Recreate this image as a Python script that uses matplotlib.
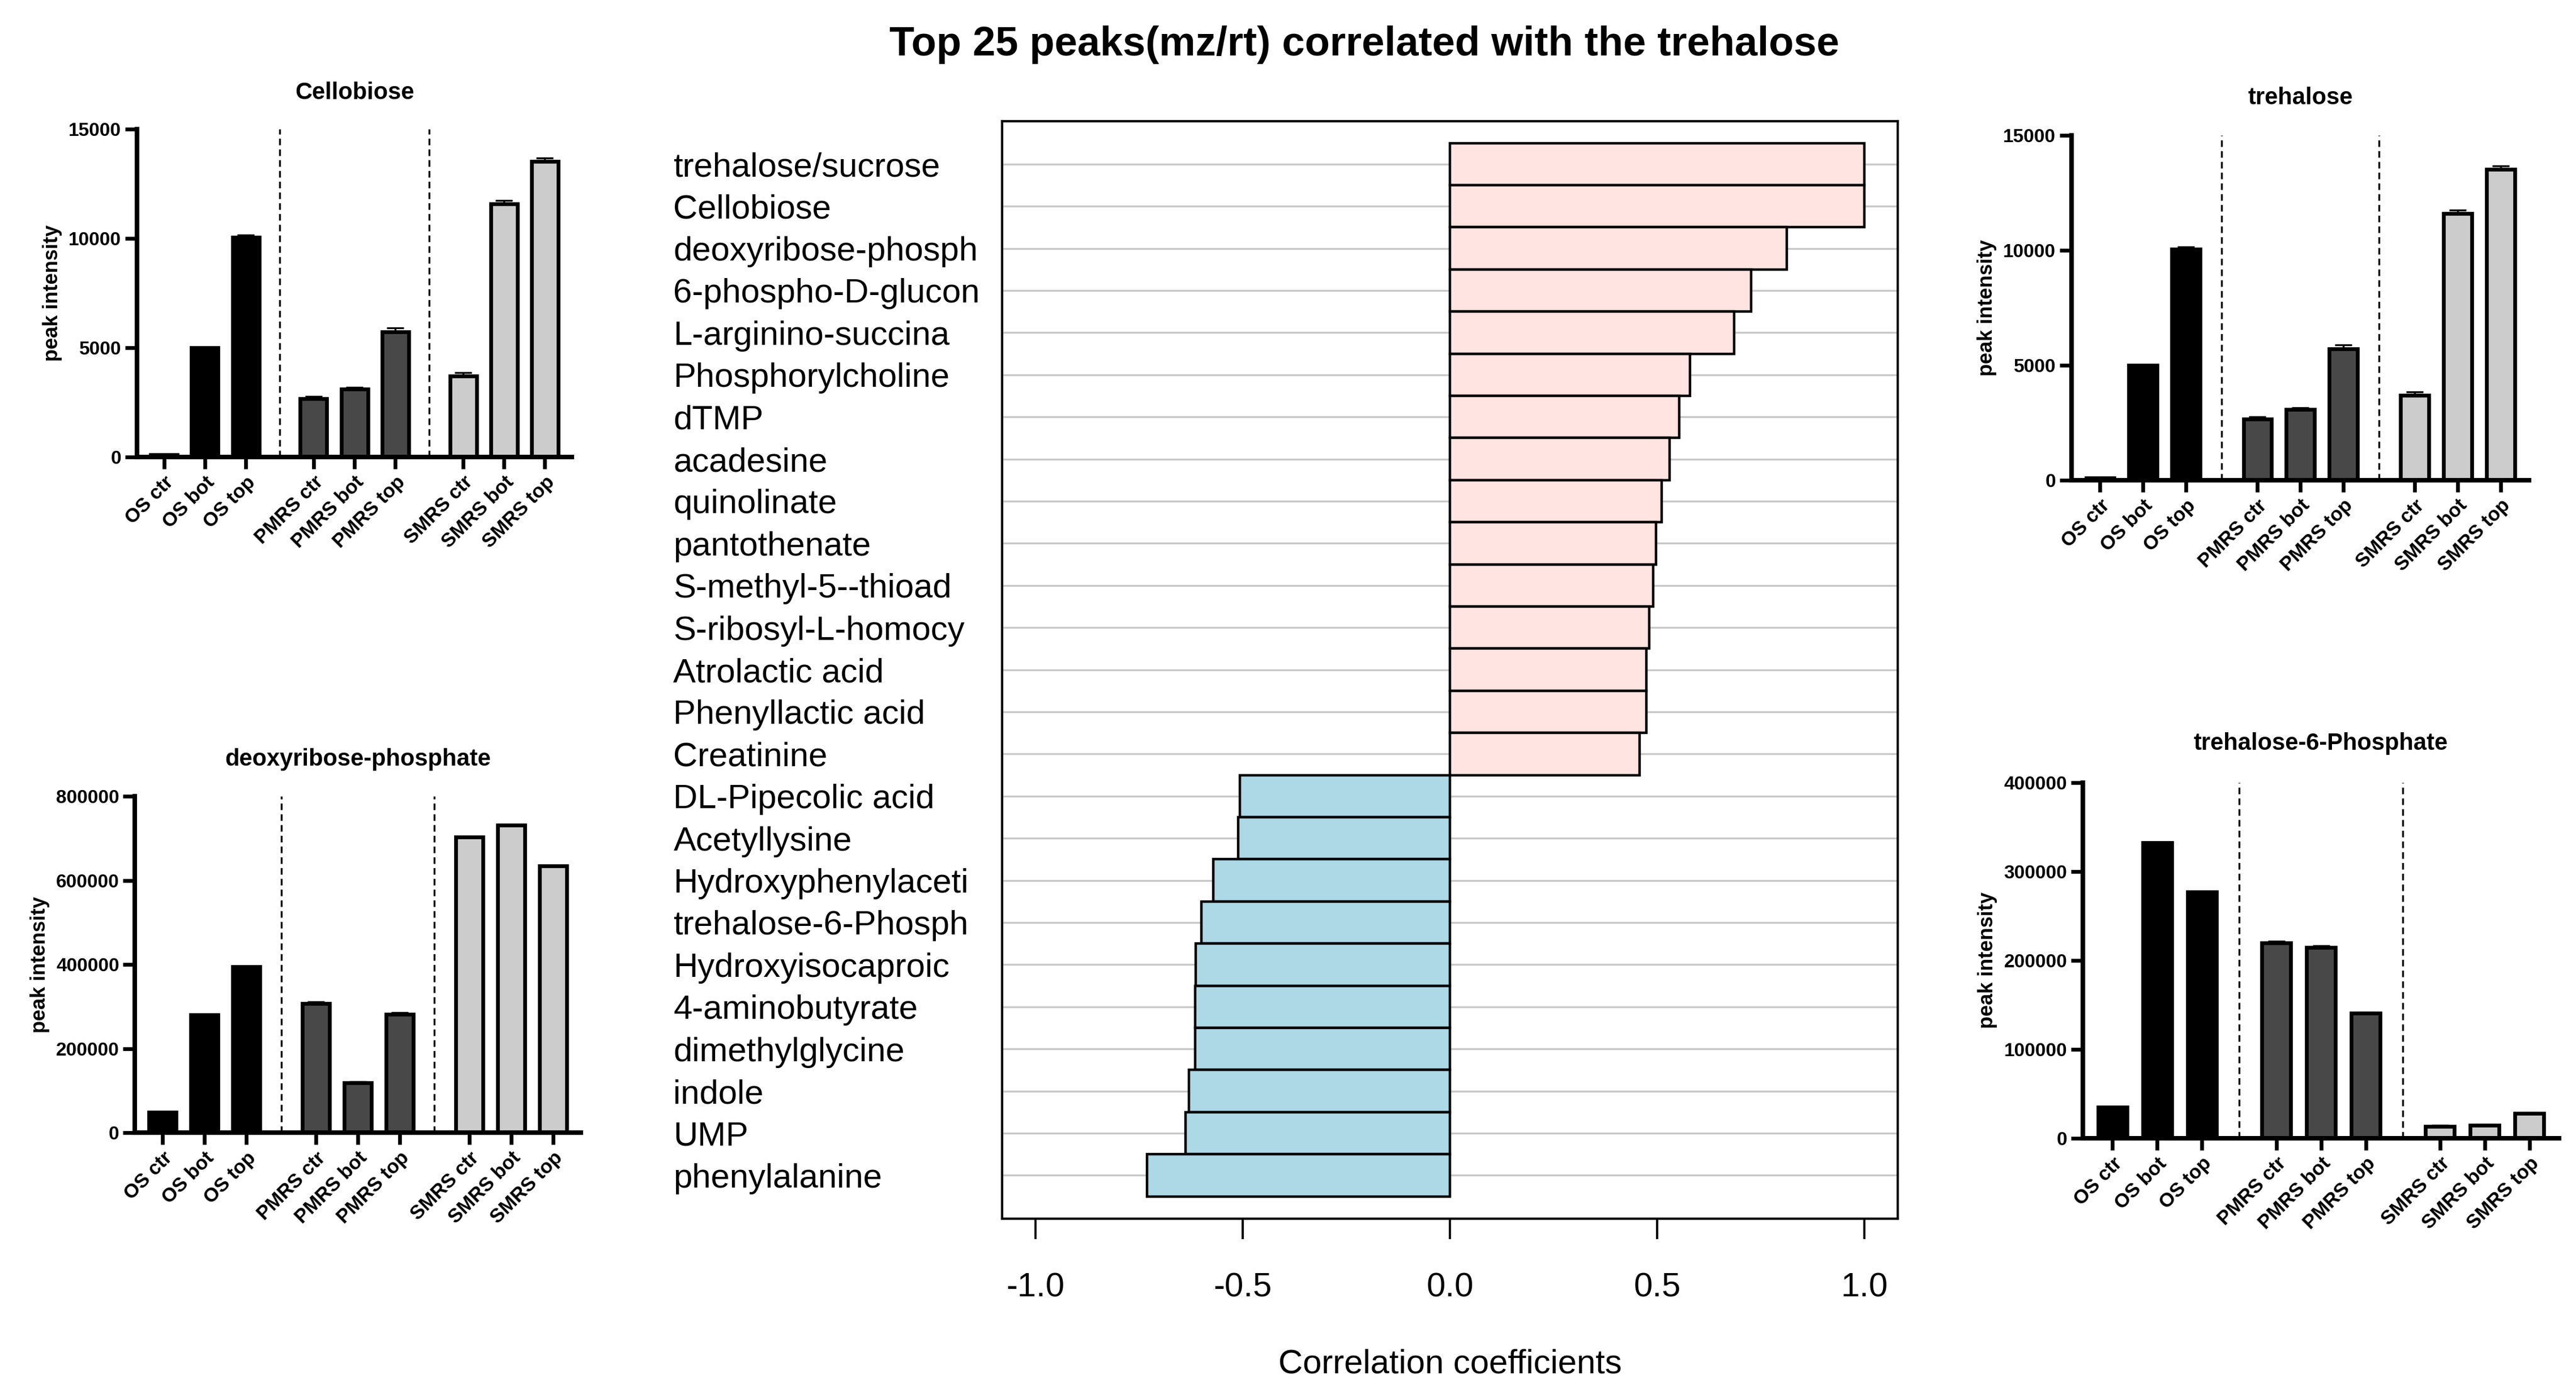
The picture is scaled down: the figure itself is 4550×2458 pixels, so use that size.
import matplotlib
matplotlib.use("Agg")
import matplotlib.pyplot as plt
import numpy as np

plt.rcParams['font.family'] = ['Liberation Sans', 'DejaVu Sans']

#------------------ main chart data ------------------#
peak_names = ['trehalose/sucrose', 'Cellobiose', 'deoxyribose-phosph', '6-phospho-D-glucon',
              'L-arginino-succina', 'Phosphorylcholine', 'dTMP', 'acadesine', 'quinolinate',
              'pantothenate', 'S-methyl-5--thioad', 'S-ribosyl-L-homocy', 'Atrolactic acid',
              'Phenyllactic acid', 'Creatinine', 'DL-Pipecolic acid', 'Acetyllysine',
              'Hydroxyphenylaceti', 'trehalose-6-Phosph', 'Hydroxyisocaproic', '4-aminobutyrate',
              'dimethylglycine', 'indole', 'UMP', 'phenylalanine']
corr_values = [1.0, 1.0, 0.813, 0.727, 0.685, 0.579, 0.553, 0.530, 0.511, 0.497, 0.490,
               0.480, 0.474, 0.474, 0.458, -0.507, -0.510, -0.570, -0.599, -0.613, -0.615,
               -0.615, -0.629, -0.638, -0.730]
corr_ticks = [-1.0, -0.5, 0.0, 0.5, 1.0]

#------------------ small panels data ------------------#
sample_groups = ['OS ctr', 'OS bot', 'OS top', 'PMRS ctr', 'PMRS bot', 'PMRS top',
                 'SMRS ctr', 'SMRS bot', 'SMRS top']
cellobiose_vals = [90, 5010, 10060, 2670, 3110, 5720, 3710, 11590, 13520]
cellobiose_err = [0, 0, 100, 100, 85, 180, 155, 140, 155]
trehalose_vals = [90, 4990, 10060, 2660, 3080, 5720, 3690, 11610, 13520]
trehalose_err = [0, 0, 100, 100, 85, 180, 155, 140, 155]
deoxy_vals = [48700, 279800, 394200, 306900, 118300, 282100, 703400, 731300, 634600]
deoxy_err = [0, 0, 0, 4000, 3000, 3000, 0, 0, 0]
t6p_vals = [34700, 332500, 277000, 219900, 214900, 140400, 13500, 14300, 27800]
t6p_err = [0, 0, 0, 1500, 1500, 1200, 1000, 1000, 1000]

bar_pos = np.array([0, 1, 2, 3.66, 4.66, 5.66, 7.32, 8.32, 9.32])
dash_x = [2.83, 6.49]
group_colors = ['#000000'] * 3 + ['#484848'] * 3 + ['#cccccc'] * 3


def small_panel(fig, rect, title, vals, errs, ymax, step, title_pad):
    ax = fig.add_axes(rect)
    ax.bar(bar_pos, vals, width=0.65, color=group_colors, edgecolor='black',
           linewidth=4.8, zorder=2)
    errs = np.array(errs, dtype=float)
    m = errs > 0
    ax.errorbar(bar_pos[m], np.array(vals)[m], yerr=[np.zeros(m.sum()), errs[m]],
                fmt='none', ecolor='black', elinewidth=2.4, capsize=11, capthick=2.4,
                zorder=3)
    for xd in dash_x:
        ax.axvline(xd, color='black', lw=2.4, linestyle=(0, (3.5, 2.2)), zorder=1)
    ax.set_xlim(-0.66, 9.98)
    ax.set_ylim(0, ymax)
    yt = np.arange(0, ymax + 1, step)
    ax.set_yticks(yt, labels=[str(int(v)) for v in yt], fontsize=24, fontweight='bold')
    ax.set_xticks(bar_pos, labels=sample_groups, fontsize=25, fontweight='bold',
                  rotation=45, ha='right', rotation_mode='anchor')
    for s in ['top', 'right']:
        ax.spines[s].set_visible(False)
    for s in ['left', 'bottom']:
        ax.spines[s].set_linewidth(5.8)
    ax.tick_params(axis='both', direction='out', length=15, width=4.8, pad=5)
    ax.set_ylabel('peak intensity', fontsize=26, fontweight='bold', labelpad=8)
    ax.set_title(title, fontsize=30, fontweight='bold', pad=title_pad)
    return ax


fig = plt.figure(figsize=(45.5, 24.58), dpi=100)

#------------------ main correlation chart ------------------#
ax = fig.add_axes([0.389, 0.1245, 0.3477, 0.7885])
ypos = np.arange(len(peak_names))
bar_cols = ['#ffe4e1' if v > 0 else '#add8e6' for v in corr_values]
ax.barh(ypos, corr_values, height=1.0, color=bar_cols, edgecolor='black',
        linewidth=3.2, zorder=2)
ax.set_xlim(-1.08, 1.08)
ax.set_ylim(25.03, -1.02)
ax.set_yticks(ypos, labels=peak_names, fontsize=43, ha='left')
ax.tick_params(axis='y', length=0, pad=418)
ax.set_xticks(corr_ticks, labels=['%.1f' % t for t in corr_ticks], fontsize=43)
ax.tick_params(axis='x', direction='out', length=26, width=2.8, pad=42)
ax.grid(axis='y', color='#c8c8c8', linewidth=2.4, zorder=0)
ax.set_axisbelow(True)
for s in ax.spines.values():
    s.set_linewidth(3.0)

fig.text(0.5629, 0.0199, 'Correlation coefficients', fontsize=43, ha='center', va='center')
fig.text(0.5297, 0.9601, 'Top 25 peaks(mz/rt) correlated with the trehalose',
         fontsize=52, fontweight='bold', ha='center', va='baseline')

#------------------ side panels ------------------#
small_panel(fig, [0.0532, 0.6717, 0.1688, 0.2355], 'Cellobiose',
            cellobiose_vals, cellobiose_err, 15000, 5000, 38)
small_panel(fig, [0.8042, 0.655, 0.1776, 0.2477], 'trehalose',
            trehalose_vals, trehalose_err, 15000, 5000, 40)
small_panel(fig, [0.0524, 0.1863, 0.173, 0.2417], 'deoxyribose-phosphate',
            deoxy_vals, deoxy_err, 800000, 200000, 39)
small_panel(fig, [0.8086, 0.1823, 0.1848, 0.2555], 'trehalose-6-Phosphate',
            t6p_vals, t6p_err, 400000, 100000, 42)

fig.savefig('out.png', dpi=100)
